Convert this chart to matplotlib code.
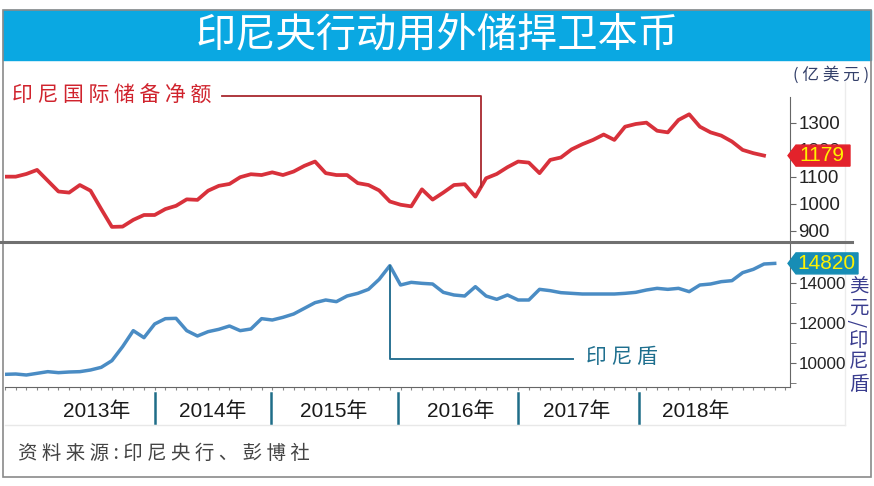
import numpy as np
import matplotlib.pyplot as plt
from matplotlib.patches import Polygon, Rectangle
from matplotlib.lines import Line2D
from matplotlib.transforms import blended_transform_factory

plt.rcParams['font.family'] = ['Liberation Sans', 'Noto Sans CJK SC', 'DejaVu Sans']

# 数据：2012年9月起的月度数据
reserves = [1101, 1101, 1111, 1126, 1086, 1046, 1042, 1070, 1049, 981,
            915, 916, 941, 959, 959, 981, 993, 1017, 1015, 1049,
            1067, 1074, 1099, 1110, 1107, 1117, 1107, 1120, 1141, 1157,
            1114, 1107, 1107, 1077, 1070, 1050, 1009, 997, 991, 1054,
            1016, 1042, 1070, 1073, 1027, 1095, 1111, 1136, 1157, 1153,
            1114, 1163, 1172, 1202, 1221, 1237, 1257, 1237, 1286, 1296,
            1301, 1271, 1265, 1311, 1332, 1286, 1265, 1253, 1231, 1200,
            1188, 1179]
rupiah = [9433, 9450, 9400, 9483, 9567, 9517, 9550, 9567, 9650, 9783,
          10117, 10817, 11617, 11267, 11950, 12217, 12233, 11617, 11350, 11567,
          11683, 11850, 11617, 11700, 12217, 12150, 12283, 12450, 12733, 13017,
          13150, 13067, 13350, 13483, 13683, 14183, 14867, 13900, 14033, 13983,
          13950, 13533, 13400, 13350, 13817, 13350, 13183, 13400, 13150, 13150,
          13683, 13617, 13517, 13483, 13450, 13450, 13450, 13450, 13483, 13533,
          13650, 13733, 13683, 13733, 13567, 13900, 13950, 14067, 14117, 14517,
          14683, 14950, 14980]
years = ['2013年', '2014年', '2015年', '2016年', '2017年', '2018年']
res_ticks = [900, 1000, 1100, 1200, 1300]
idr_ticks = [10000, 12000, 14000]
res_last = '1179'
idr_last = '14820'

W, H = 874, 486
def fx(px):
    return px / W
def fy(py):
    return 1 - py / H

red = '#d8313b'
blue = '#4a8cc4'

fig = plt.figure(figsize=(W / 100, H / 100), dpi=100)
fig.patch.set_facecolor('white')

# 标题栏
fig.add_artist(Rectangle((fx(3), fy(60)), 868 / W, 50 / H, transform=fig.transFigure,
                         color='#0aa8e2', zorder=0))
fig.text(0.5, fy(35), '印尼央行动用外储捍卫本币', color='white', fontsize=29,
         family=['Noto Sans CJK SC'], ha='center', va='center')
# 外框
fig.add_artist(Rectangle((fx(3), fy(477)), 868 / W, 467 / H, transform=fig.transFigure,
                         fill=False, ec='#8a8a8a', lw=1.2, zorder=0))
# 浅色辅助线
fig.add_artist(Line2D([fx(5), fx(845)], [fy(425), fy(425)], color='#e8e8e8', lw=1,
                      transform=fig.transFigure, zorder=0))
fig.add_artist(Line2D([fx(845), fx(845)], [fy(82), fy(425)], color='#ececec', lw=1,
                      transform=fig.transFigure, zorder=0))

ax1 = fig.add_axes([fx(5), fy(242), 785 / W, 145 / H])
ax2 = fig.add_axes([fx(5), fy(387), 785 / W, 144 / H])
xmax = 73.43

# 上图：外汇储备
ax1.plot(np.arange(len(reserves)), reserves, color=red, lw=2.7, solid_joinstyle='round')
ax1.set_xlim(0, xmax)
ax1.set_ylim(859, 1396)
for s in ['left', 'top', 'bottom']:
    ax1.spines[s].set_visible(False)
ax1.spines['right'].set_color('#666666')
ax1.set_facecolor('none')
ax1.set_xticks([])
ax1.yaxis.tick_right()
ax1.set_yticks(res_ticks)
ax1.tick_params(axis='y', direction='out', length=4, color='#666666', labelsize=13.5,
                pad=2, labelcolor='#222222')

# 下图：印尼盾
ax2.plot(np.arange(len(rupiah)), rupiah, color=blue, lw=2.5, solid_joinstyle='round')
ax2.set_xlim(0, xmax)
ax2.set_ylim(8800, 16000)
for s in ['left', 'top']:
    ax2.spines[s].set_visible(False)
ax2.spines['right'].set_color('#666666')
ax2.spines['bottom'].set_color('#666666')
ax2.set_facecolor('none')
ax2.yaxis.tick_right()
ax2.set_yticks(idr_ticks)
ax2.set_yticks([9000, 11000, 13000, 15000], minor=True)
ax2.tick_params(axis='y', which='both', direction='out', length=4, color='#666666',
                labelsize=12.3, pad=2, labelcolor='#222222')
ax2.set_xticks(np.arange(0, 74, 1))
ax2.set_xticklabels([])
ax2.tick_params(axis='x', direction='out', length=2.5, color='#888888')

# 年份分隔与标签
bt = blended_transform_factory(ax2.transData, ax2.transAxes)
seps = [14.03, 24.88, 36.76, 47.99, 59.31]
lab_pos = [8.6, 19.4, 30.7, 42.6, 53.5, 64.6]
for s in seps:
    ax2.plot([s, s], [-0.045, -0.25], transform=bt, clip_on=False, color='#1f6d88', lw=1.8)
for p, lab in zip(lab_pos, years):
    ax2.text(p, -0.165, lab, transform=bt, ha='center', va='center', fontsize=15, color='#1a1a1a')

# 中间分隔线
fig.add_artist(Line2D([fx(0), fx(852)], [fy(242), fy(242)], color='#707070', lw=2.2,
                      transform=fig.transFigure))

# 标注线
xa = 44.5
ya = np.interp(xa, np.arange(len(reserves)), reserves)
ax1.plot([20.3, xa, xa], [1400, 1400, ya], color='#a8282e', lw=1.3, clip_on=False)
fig.text(fx(12), fy(96), '印 尼 国 际 储 备 净 额', color='#d0232d', fontsize=15,
         family=['Noto Sans CJK SC'], ha='left', va='center')

ax2.plot([36, 36, 53.1], [rupiah[36], 10200, 10200], color='#2b7394', lw=1.4)
fig.text(fx(586), fy(357), '印 尼 盾', color='#1e6f8e', fontsize=15,
         family=['Noto Sans CJK SC'], ha='left', va='center')

fig.text(fx(831), fy(75), '( 亿 美 元 )', color='#34406a', fontsize=12,
         family=['Noto Sans CJK SC'], ha='center', va='center')

# 纵排单位
unit = ['美', '元', '/', '印', '尼', '盾']
unit_y = [287, 308, 323, 340, 362, 384]
for ch, yy in zip(unit, unit_y):
    fig.text(fx(859), fy(yy), ch, color='#3a3d8f', fontsize=14, family=['Noto Sans CJK SC'],
             ha='center', va='center', rotation=90 if ch == '/' else 0)


def tag(ax, val, text, color, xr):
    ypx = H - ax.transData.transform((0, val))[1]
    pts = [(788, ypx), (796, ypx - 10.5), (xr, ypx - 10.5), (xr, ypx + 10.5), (796, ypx + 10.5)]
    fig.add_artist(Polygon([(fx(a), fy(b)) for a, b in pts], closed=True, color=color,
                           transform=fig.transFigure, zorder=5))
    fig.text(fx((794 + xr) / 2), fy(ypx), text, color='#fff200', fontsize=15,
             ha='center', va='center', zorder=6)


tag(ax1, reserves[-1], res_last, '#e3222b', 850)
tag(ax2, rupiah[-1], idr_last, '#178db5', 858)

fig.text(fx(18), fy(453), '资 料 来 源 : 印 尼 央 行 、 彭 博 社', color='#444444', fontsize=14,
         family=['Noto Sans CJK SC'], ha='left', va='center')

fig.savefig('out.png', dpi=100)
